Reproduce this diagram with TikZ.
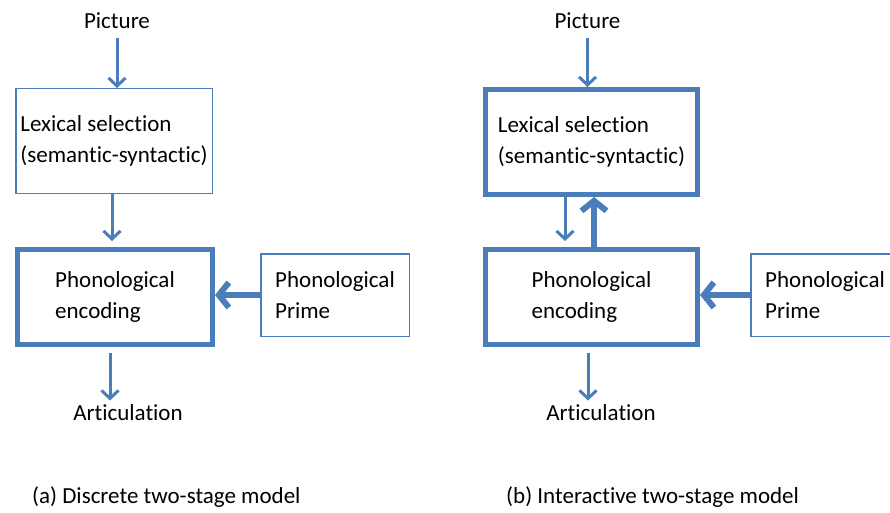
\documentclass[tikz,border=0pt]{standalone}
\usepackage{fontspec}
\setmainfont{Carlito}[Ligatures=NoCommon]
\usetikzlibrary{arrows.meta}
\definecolor{modelblue}{RGB}{74, 126, 187}

\begin{document}
\begin{tikzpicture}[
  x=1pt, y=-1pt,
  every node/.style={font=\fontsize{23}{31.5}\selectfont},
  box/.style={draw=modelblue, line width=1.5pt, fill=white, align=left, inner sep=0pt},
  stage/.style={box, line width=5pt},
  arrow/.style={draw=modelblue, line width=3pt, -{Straight Barb[length=8pt, width=17pt]}},
  thickarrow/.style={draw=modelblue, line width=6pt, -{Straight Barb[length=10pt, width=25pt]}}
]
  \useasboundingbox (0,0) rectangle (890,513);
  \clip (0,0) rectangle (890,513);

  % (a) discrete model
  \node[anchor=base] (picA) at (117,29) {Picture};
  \node[box, minimum width=196.5pt, minimum height=104.5pt] (lexA) at (114,141) {Lexical selection\\(semantic-syntactic)};
  \node[stage, minimum width=195pt, minimum height=95pt] (encA) at (115,297) {Phonological\\encoding};
  \node[box, minimum width=148.5pt, minimum height=82.5pt] (primeA) at (335,295) {Phonological\\Prime};
  \node[anchor=base] (artA) at (128,420) {Articulation};
  \node[anchor=base west, inner sep=0pt] (capA) at (32,503) {(a) Discrete two-stage model};

  \draw[arrow, shorten <=5pt] (picA.south) -- (picA.south |- lexA.north);
  \draw[arrow, shorten >=6pt] ([xshift=-2pt]lexA.south) -- ([xshift=-2pt]lexA.south |- encA.north);
  \draw[thickarrow] (primeA.west) -- (primeA.west -| encA.east);
  \draw[arrow, shorten <=6pt] ([xshift=-5pt]encA.south) -- ([xshift=-5pt]encA.south |- artA.north);

  % (b) interactive model
  \node[anchor=base] (picB) at (587.5,29) {Picture};
  \node[stage, minimum width=212pt, minimum height=105pt] (lexB) at (591.5,142) {Lexical selection\\(semantic-syntactic)};
  \node[stage, minimum width=212pt, minimum height=95pt] (encB) at (591.5,297) {Phonological\\encoding};
  \node[box, minimum width=148.5pt, minimum height=82.5pt] (primeB) at (825,295) {Phonological\\Prime};
  \node[anchor=base] (artB) at (601,420) {Articulation};
  \node[anchor=base west, inner sep=0pt] (capB) at (506,503) {(b) Interactive two-stage model};

  \draw[arrow, shorten <=5pt] (picB.south) -- (picB.south |- lexB.north);
  \draw[arrow, shorten >=6pt] ([xshift=-26.5pt]lexB.south) -- ([xshift=-26.5pt]lexB.south |- encB.north);
  \draw[thickarrow] ([xshift=2.5pt]encB.north) -- ([xshift=2.5pt]encB.north |- lexB.south);
  \draw[thickarrow] (primeB.west) -- (primeB.west -| encB.east);
  \draw[arrow, shorten <=6pt] ([xshift=-3.5pt]encB.south) -- ([xshift=-3.5pt]encB.south |- artB.north);

\end{tikzpicture}
\end{document}
